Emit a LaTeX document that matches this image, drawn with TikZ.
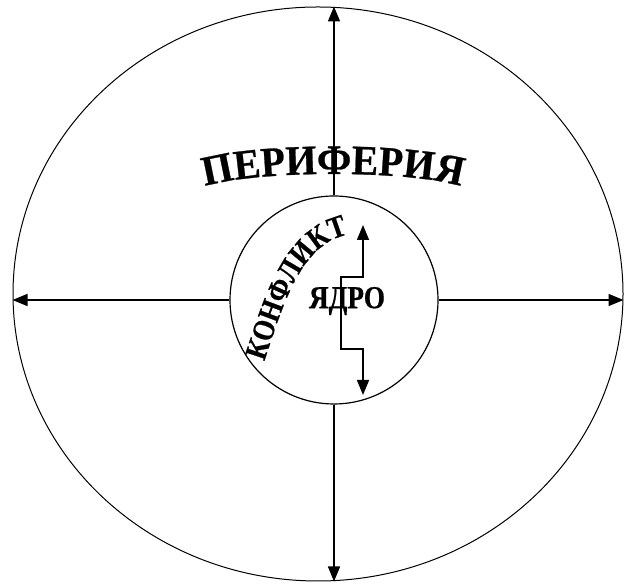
\documentclass[tikz,border=0pt]{standalone}
\usepackage{fontspec}
\setmainfont{Liberation Serif}
\newfontfamily\artfont[FakeStretch=0.85, FakeBold=0.6]{Liberation Serif Bold}
\newfontfamily\wideartfont[FakeStretch=0.95, FakeBold=0.6]{Liberation Serif Bold}
\usepackage{tikz}
\usetikzlibrary{arrows.meta,shapes.geometric,decorations.text}

\newcommand{\periphfont}{\wideartfont\fontsize{42}{46}\selectfont}
\newcommand{\conflfont}{\artfont\fontsize{31}{34}\selectfont}

\begin{document}
\begin{tikzpicture}[x=1pt, y=1pt,
  zone/.style={draw, line width=1pt, inner sep=0pt},
  conn/.style={-{Triangle[length=15pt,width=12pt]}, line width=1.5pt},
  twoway/.style={{Triangle[length=15pt,width=12pt]}-{Triangle[length=15pt,width=12pt]}, line width=1.5pt}
]
  \useasboundingbox (0,0) rectangle (626,585);

  \node[zone, ellipse, minimum width=610pt, minimum height=574pt] (periph) at (318,291) {};
  \node[zone, circle, minimum size=208pt, line width=1.2pt] (core) at (334,285) {};

  \draw[conn] (core.north) -- (core.north |- periph.north);
  \draw[conn] (core.south) -- (core.south |- periph.south);
  \draw[conn] (core.west) -- (core.west -| periph.west);
  \draw[conn] (core.east) -- (core.east -| periph.east);

  % arched labels
  \path[decorate, decoration={text along path, text align=center,
      text={|\periphfont|ПЕРИФЕРИЯ}}]
    (193,390) arc[start angle=180, end angle=0, x radius=140, y radius=21];
  \path[decorate, decoration={text along path, text align=center,
      text={|\conflfont|КОНФЛИКТ}}]
    (265,226) .. controls (282,276) and (299,339) .. (346,350);

  \node[font=\artfont\fontsize{32}{34}\selectfont] (yadro) at (347,284) {ЯДРО};

  \coordinate (zt) at (363,360);
  \coordinate (zb) at (363,190);
  \draw[twoway] (zt) -- (363,308) -| (341,236) -- (363,236) -- (zb);
\end{tikzpicture}
\end{document}
